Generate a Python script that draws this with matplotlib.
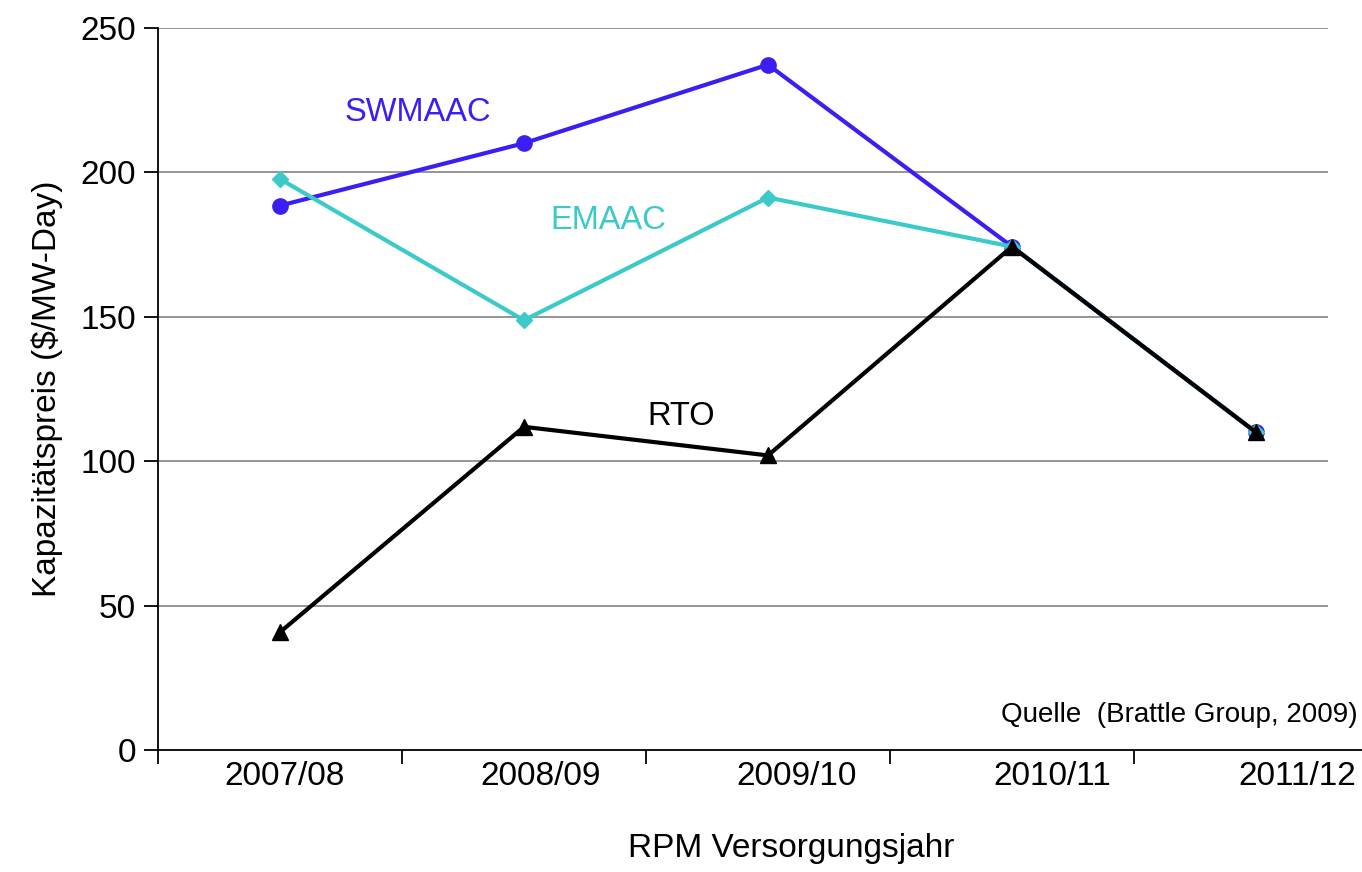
import numpy as np
import matplotlib.pyplot as plt

plt.rcParams['font.family'] = ['Liberation Sans', 'DejaVu Sans']

years = ["2007/08", "2008/09", "2009/10", "2010/11", "2011/12"]
swmaac = [188.5, 210.1, 237.3, 174.3, 110.0]
emaac = [197.7, 148.8, 191.3, 174.3, 110.0]
rto = [40.8, 111.9, 102.0, 174.3, 110.0]

x = np.arange(len(years))

fig = plt.figure(figsize=(13.62, 8.72), dpi=100)
# plot area runs past the right edge of the figure
ax = fig.add_axes([158 / 1362, 122 / 872, 1220 / 1362, 722 / 872])

ax.hlines([50, 100, 150, 200, 250], -0.5, 4.295, color="#8c8c8c", lw=1.3, zorder=0)

ax.plot(x, swmaac, color="#3b1ff2", lw=3, marker="o", ms=11, zorder=3)
ax.plot(x, emaac, color="#3cc9c9", lw=3, marker="D", ms=8, zorder=4)
ax.plot(x, rto, color="black", lw=3, marker="^", ms=11, zorder=5)

ax.text(0.566, 220.6, "SWMAAC", color="#3b1ff2", fontsize=23.5, ha="center", va="center")
ax.text(1.344, 183.5, "EMAAC", color="#3cc9c9", fontsize=23.5, ha="center", va="center")
ax.text(1.643, 115.6, "RTO", color="black", fontsize=23.5, ha="center", va="center")
ax.text(4.418, 12, "Quelle  (Brattle Group, 2009)", fontsize=20, ha="right", va="center")

ax.set_xlim(-0.5, 4.5)
ax.set_ylim(0, 250)
ax.set_yticks([0, 50, 100, 150, 200, 250])
ax.tick_params(axis="y", labelsize=24, length=10, width=1.3, pad=6)

# boundary ticks between categories; the year labels sit slightly to the right
ax.set_xticks(np.arange(-0.5, 5, 1.0))
ax.set_xticklabels([])
label_pos = [0.02, 1.068, 2.116, 3.164, 4.17]
ax.set_xticks(label_pos, minor=True)
ax.set_xticklabels(years, minor=True)
ax.tick_params(axis="x", which="major", length=10, width=1.3)
ax.tick_params(axis="x", which="minor", length=0, labelsize=24, pad=8)

for s in ["top", "right"]:
    ax.spines[s].set_visible(False)
for s in ["left", "bottom"]:
    ax.spines[s].set_linewidth(1.3)

ax.set_xlabel("RPM Versorgungsjahr", fontsize=24)
ax.xaxis.set_label_coords(0.519, -0.115)
ax.set_ylabel("Kapazitätspreis ($/MW-Day)", fontsize=24, labelpad=12)

fig.savefig("out.png", dpi=100)
